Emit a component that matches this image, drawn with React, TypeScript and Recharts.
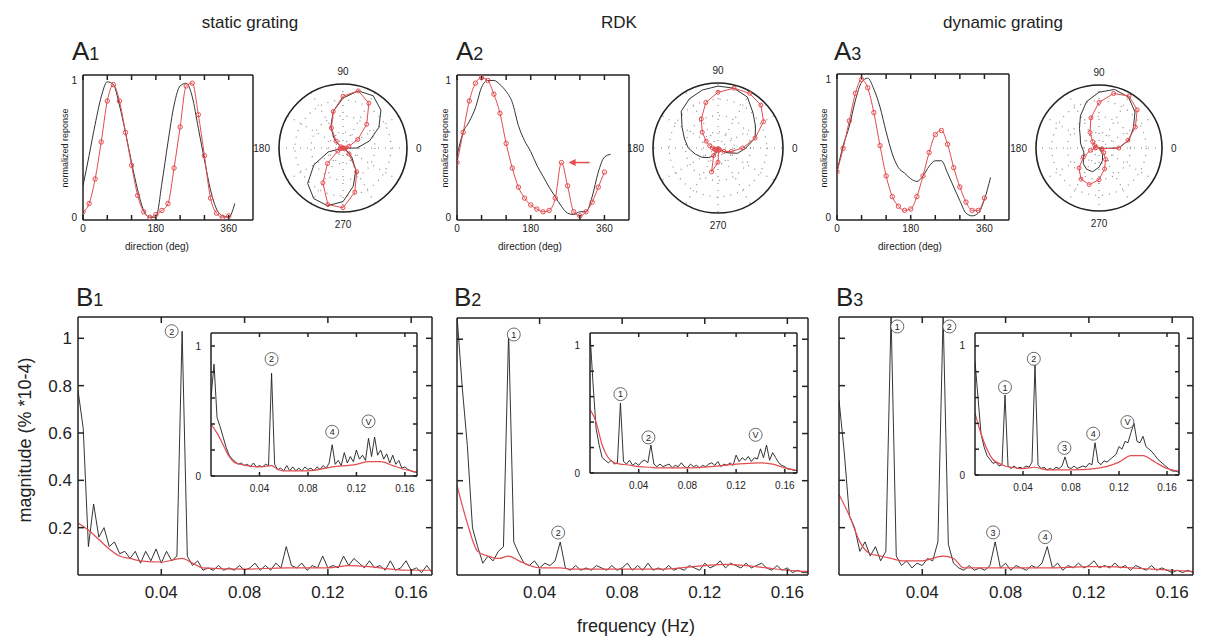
import React from 'react';
import {
  ComposedChart, Line, Scatter, XAxis, YAxis,
  RadarChart, Radar, PolarGrid, PolarAngleAxis, PolarRadiusAxis,
} from 'recharts';

const RED = '#e34b4f';
const INK = '#222';
const FONT = '"Liberation Sans", Arial, Helvetica, sans-serif';

// ---- A panels: direction tuning (normalized response) ----
const dirs = [0, 15, 30, 45, 60, 75, 90, 105, 120, 135, 150, 165, 180, 195, 210, 225, 240, 255, 270, 285, 300, 315, 330, 345, 360, 375];
const dirTicks = [0, 60, 120, 180, 240, 300, 360];
const dirLabels = [0, 180, 360];

const a1Black = [0.23, 0.45, 0.68, 0.88, 0.99, 0.97, 0.82, 0.62, 0.40, 0.20, 0.05, 0.0, 0.0, 0.25, 0.55, 0.82, 0.96, 0.98, 0.88, 0.65, 0.42, 0.20, 0.06, 0.01, 0.0, 0.10];
const a1Red = [0.04, 0.10, 0.28, 0.55, 0.85, 0.97, 0.85, 0.62, 0.38, 0.16, 0.04, 0.0, 0.02, 0.05, 0.10, 0.36, 0.66, 0.96, 0.98, 0.75, 0.45, 0.14, 0.03, 0.0, 0.01, null];
const a2Black = [0.45, 0.62, 0.70, 0.80, 0.95, 1.0, 1.0, 0.97, 0.92, 0.84, 0.67, 0.56, 0.48, 0.38, 0.30, 0.22, 0.15, 0.08, 0.03, 0.02, 0.04, 0.04, 0.15, 0.33, 0.44, 0.46];
const a2Red = [0.40, 0.62, 0.85, 0.98, 1.02, 1.0, 0.90, 0.76, 0.54, 0.36, 0.22, 0.14, 0.09, 0.06, 0.04, 0.05, 0.14, 0.40, 0.23, 0.04, 0.01, 0.04, 0.11, 0.22, 0.33, null];
const a3Black = [0.33, 0.52, 0.66, 0.85, 0.98, 1.01, 0.93, 0.80, 0.62, 0.46, 0.36, 0.32, 0.28, 0.26, 0.30, 0.37, 0.41, 0.41, 0.32, 0.22, 0.12, 0.03, 0.01, 0.03, 0.13, 0.29];
const a3Red = [0.33, 0.50, 0.70, 0.90, 1.0, 0.94, 0.76, 0.52, 0.30, 0.15, 0.08, 0.05, 0.06, 0.15, 0.30, 0.47, 0.60, 0.63, 0.53, 0.36, 0.22, 0.11, 0.05, 0.05, 0.14, null];
const a2Arrow = [{ dir: 270, v: 0.4 }];

// ---- B panels: spectra ----
const freqs = [
  0, 0.0025, 0.005, 0.0075, 0.01, 0.0125, 0.015, 0.0175, 0.02, 0.0225,
  0.025, 0.0275, 0.03, 0.0325, 0.035, 0.0375, 0.04, 0.0425, 0.045, 0.0475,
  0.05, 0.0525, 0.055, 0.0575, 0.06, 0.0625, 0.065, 0.0675, 0.07, 0.0725,
  0.075, 0.0775, 0.08, 0.0825, 0.085, 0.0875, 0.09, 0.0925, 0.095, 0.0975,
  0.1, 0.1025, 0.105, 0.1075, 0.11, 0.1125, 0.115, 0.1175, 0.12, 0.1225,
  0.125, 0.1275, 0.13, 0.1325, 0.135, 0.1375, 0.14, 0.1425, 0.145, 0.1475,
  0.15, 0.1525, 0.155, 0.1575, 0.16, 0.1625, 0.165, 0.1675, 0.17,
];
const redFreqs = [0, 0.005, 0.01, 0.015, 0.02, 0.025, 0.03, 0.04, 0.05, 0.055, 0.06, 0.08, 0.1, 0.12, 0.13, 0.14, 0.15, 0.16, 0.17];
const freqTicks = [0.04, 0.08, 0.12, 0.16];

const b1Black = [
  0.78, 0.62, 0.12, 0.30, 0.16, 0.20, 0.12, 0.14, 0.09, 0.10,
  0.07, 0.10, 0.05, 0.10, 0.06, 0.11, 0.05, 0.10, 0.06, 0.08,
  1.03, 0.08, 0.04, 0.06, 0.02, 0.03, 0.02, 0.04, 0.02, 0.03,
  0.02, 0.04, 0.02, 0.03, 0.05, 0.02, 0.04, 0.02, 0.05, 0.03,
  0.12, 0.04, 0.03, 0.05, 0.02, 0.04, 0.03, 0.08, 0.03, 0.04,
  0.03, 0.08, 0.04, 0.07, 0.05, 0.03, 0.06, 0.03, 0.04, 0.02,
  0.06, 0.02, 0.03, 0.06, 0.02, 0.03, 0.01, 0.04, 0.01,
];
const b1Red = [0.22, 0.19, 0.15, 0.11, 0.08, 0.07, 0.06, 0.055, 0.07, 0.05, 0.03, 0.025, 0.03, 0.03, 0.04, 0.035, 0.025, 0.02, 0.02];
const b1InsetBlack = [
  0.60, 0.86, 0.45, 0.38, 0.30, 0.22, 0.16, 0.13, 0.11, 0.09,
  0.10, 0.08, 0.09, 0.07, 0.10, 0.07, 0.08, 0.07, 0.09, 0.08,
  0.79, 0.09, 0.05, 0.06, 0.04, 0.08, 0.04, 0.07, 0.04, 0.06,
  0.04, 0.07, 0.05, 0.06, 0.04, 0.07, 0.05, 0.08, 0.06, 0.10,
  0.24, 0.09, 0.12, 0.08, 0.18, 0.10, 0.15, 0.11, 0.20, 0.13,
  0.16, 0.12, 0.29, 0.15, 0.30, 0.16, 0.20, 0.13, 0.17, 0.10,
  0.16, 0.09, 0.12, 0.06, 0.07, 0.05, 0.04, 0.03, 0.03,
];
const b1InsetRed = [0.40, 0.33, 0.24, 0.15, 0.10, 0.09, 0.08, 0.07, 0.08, 0.05, 0.04, 0.04, 0.07, 0.09, 0.11, 0.11, 0.08, 0.05, 0.03];

const b2Black = [
  1.10, 0.80, 0.55, 0.20, 0.12, 0.05, 0.08, 0.06, 0.10, 0.12,
  1.03, 0.14, 0.09, 0.05, 0.04, 0.06, 0.03, 0.05, 0.04, 0.06,
  0.14, 0.03, 0.02, 0.04, 0.02, 0.03, 0.02, 0.04, 0.03, 0.02,
  0.04, 0.02, 0.03, 0.05, 0.02, 0.04, 0.02, 0.05, 0.02, 0.03,
  0.02, 0.04, 0.02, 0.03, 0.02, 0.04, 0.03, 0.02, 0.05, 0.03,
  0.04, 0.06, 0.03, 0.05, 0.04, 0.03, 0.05, 0.03, 0.04, 0.05,
  0.03, 0.02, 0.04, 0.02, 0.03, 0.01, 0.02, 0.01, 0.01,
];
const b2Red = [0.38, 0.22, 0.10, 0.08, 0.07, 0.08, 0.06, 0.03, 0.03, 0.025, 0.025, 0.025, 0.025, 0.04, 0.045, 0.04, 0.03, 0.02, 0.015];
const b2InsetBlack = [
  1.10, 0.70, 0.35, 0.22, 0.12, 0.10, 0.08, 0.10, 0.07, 0.08,
  0.55, 0.09, 0.07, 0.10, 0.06, 0.08, 0.06, 0.09, 0.10, 0.08,
  0.22, 0.07, 0.05, 0.07, 0.05, 0.06, 0.07, 0.04, 0.06, 0.05,
  0.08, 0.05, 0.04, 0.07, 0.05, 0.06, 0.04, 0.06, 0.05, 0.07,
  0.08, 0.06, 0.09, 0.05, 0.07, 0.06, 0.08, 0.06, 0.14, 0.09,
  0.12, 0.10, 0.13, 0.09, 0.12, 0.11, 0.19, 0.12, 0.22, 0.10,
  0.16, 0.12, 0.08, 0.06, 0.05, 0.03, 0.03, 0.02, 0.02,
];
const b2InsetRed = [0.50, 0.40, 0.22, 0.12, 0.08, 0.07, 0.065, 0.05, 0.045, 0.04, 0.04, 0.04, 0.05, 0.07, 0.075, 0.08, 0.07, 0.04, 0.02];

const b3Black = [
  0.74, 0.52, 0.25, 0.20, 0.10, 0.14, 0.08, 0.12, 0.06, 0.10,
  1.10, 0.08, 0.04, 0.06, 0.03, 0.05, 0.04, 0.07, 0.06, 0.14,
  1.10, 0.13, 0.05, 0.03, 0.02, 0.04, 0.02, 0.03, 0.02, 0.04,
  0.14, 0.03, 0.05, 0.02, 0.04, 0.03, 0.02, 0.04, 0.03, 0.05,
  0.12, 0.03, 0.05, 0.02, 0.04, 0.03, 0.05, 0.03, 0.04, 0.06,
  0.03, 0.04, 0.03, 0.05, 0.03, 0.04, 0.02, 0.04, 0.03, 0.02,
  0.04, 0.02, 0.03, 0.02, 0.01, 0.02, 0.01, 0.02, 0.01,
];
const b3Red = [0.34, 0.25, 0.14, 0.09, 0.08, 0.07, 0.06, 0.06, 0.08, 0.07, 0.03, 0.03, 0.03, 0.035, 0.035, 0.03, 0.025, 0.02, 0.015];
const b3InsetBlack = [
  0.88, 0.60, 0.32, 0.22, 0.15, 0.12, 0.09, 0.10, 0.07, 0.08,
  0.62, 0.07, 0.05, 0.07, 0.05, 0.06, 0.05, 0.07, 0.06, 0.10,
  0.86, 0.08, 0.05, 0.06, 0.04, 0.05, 0.04, 0.06, 0.05, 0.07,
  0.14, 0.06, 0.05, 0.07, 0.05, 0.06, 0.07, 0.06, 0.09, 0.08,
  0.25, 0.10, 0.08, 0.11, 0.10, 0.12, 0.14, 0.16, 0.22, 0.20,
  0.26, 0.25, 0.33, 0.40, 0.26, 0.25, 0.30, 0.22, 0.20, 0.18,
  0.15, 0.12, 0.10, 0.08, 0.06, 0.04, 0.03, 0.03, 0.02,
];
const b3InsetRed = [0.48, 0.32, 0.20, 0.12, 0.09, 0.07, 0.06, 0.05, 0.06, 0.05, 0.04, 0.04, 0.05, 0.10, 0.15, 0.15, 0.10, 0.05, 0.03];

// circled peak labels (harmonics 1-4, V)
const b1Marks = [{ f: 0.045, y: 1.03, t: '2' }];
const b1InsetMarks = [{ f: 0.05, y: 0.9, t: '2' }, { f: 0.1, y: 0.34, t: '4' }, { f: 0.13, y: 0.42, t: 'V' }];
const b2Marks = [{ f: 0.0275, y: 1.02, t: '1' }, { f: 0.049, y: 0.18, t: '2' }];
const b2InsetMarks = [{ f: 0.025, y: 0.62, t: '1' }, { f: 0.048, y: 0.28, t: '2' }, { f: 0.136, y: 0.3, t: 'V' }];
const b3Marks = [{ f: 0.028, y: 1.05, t: '1' }, { f: 0.053, y: 1.05, t: '2' }, { f: 0.074, y: 0.18, t: '3' }, { f: 0.099, y: 0.16, t: '4' }];
const b3InsetMarks = [{ f: 0.025, y: 0.68, t: '1' }, { f: 0.049, y: 0.9, t: '2' }, { f: 0.0745, y: 0.21, t: '3' }, { f: 0.0985, y: 0.32, t: '4' }, { f: 0.127, y: 0.41, t: 'V' }];

type BoxT = { left: number; top: number; w: number; h: number };

const Circled = (p: any) => {
  const { cx, cy, payload } = p;
  return (
    <g>
      <circle cx={cx} cy={cy} r={6.5} fill="#fff" stroke="#444" strokeWidth={0.8} />
      <text x={cx} y={cy + 3.3} textAnchor="middle" fontSize={9} fontFamily={FONT} fill={INK}>{payload.t}</text>
    </g>
  );
};

const ArrowMark = (p: any) => {
  const { cx, cy } = p;
  return (
    <g>
      <line x1={cx + 6} y1={cy} x2={cx + 22} y2={cy} stroke={RED} strokeWidth={1.5} />
      <polygon points={`${cx + 1},${cy} ${cx + 8},${cy - 3.5} ${cx + 8},${cy + 3.5}`} fill={RED} />
    </g>
  );
};

function TuningPlot({ box, black, red, arrow }: { box: BoxT; black: (number | null)[]; red: (number | null)[]; arrow?: boolean }) {
  const L = 22, R = 4, T = 4, B = 24;
  const rows = dirs.map((d, i) => ({ dir: d, black: black[i], red: red[i] }));
  const axisStyle = { stroke: INK, strokeWidth: 1.5 };
  const tick = { fontSize: 10, fill: INK, fontFamily: FONT };
  return (
    <div style={{ position: 'absolute', left: box.left - L, top: box.top - T }}>
      <ComposedChart width={box.w + L + R} height={box.h + T + B} data={rows} margin={{ top: 0, right: 0, bottom: 0, left: 0 }}>
        <XAxis xAxisId="b" dataKey="dir" type="number" domain={[0, 420]} ticks={dirTicks} allowDataOverflow
          tickFormatter={(v: number) => (dirLabels.includes(v) ? String(v) : '')}
          height={B} tickSize={-5} tickMargin={10} axisLine={axisStyle} tickLine={axisStyle} tick={tick} />
        <XAxis xAxisId="t" orientation="top" dataKey="dir" type="number" domain={[0, 420]} ticks={dirTicks} allowDataOverflow
          tickFormatter={() => ''} height={T} tickSize={-5} axisLine={axisStyle} tickLine={axisStyle} />
        <YAxis yAxisId="l" type="number" domain={[-0.02, 1.04]} ticks={[0, 1]} allowDataOverflow
          width={L} tickSize={0} tickMargin={6} axisLine={axisStyle} tickLine={false} tick={tick} />
        <YAxis yAxisId="r" orientation="right" type="number" domain={[-0.02, 1.04]} ticks={[0, 1]} allowDataOverflow
          width={R} tick={false} tickLine={false} axisLine={axisStyle} />
        <Line xAxisId="b" yAxisId="l" dataKey="black" type="monotone" stroke="#333" strokeWidth={1} dot={false} isAnimationActive={false} />
        <Line xAxisId="b" yAxisId="l" dataKey="red" type="monotone" stroke={RED} strokeWidth={1} isAnimationActive={false}
          dot={{ r: 2.2, stroke: RED, fill: 'none', strokeWidth: 1 }} />
        {arrow && (
          <Scatter xAxisId="b" yAxisId="l" data={a2Arrow} dataKey="v" shape={ArrowMark} isAnimationActive={false} />
        )}
      </ComposedChart>
    </div>
  );
}

function PolarPlot({ cx, cy, r, black, red }: { cx: number; cy: number; r: number; black: (number | null)[]; red: (number | null)[] }) {
  const rows = dirs.filter((d) => d < 360).map((d, i) => ({ dir: d, black: black[i], red: red[i] }));
  const size = 2 * r + 70;
  return (
    <div style={{ position: 'absolute', left: cx - size / 2, top: cy - size / 2 }}>
      <RadarChart width={size} height={size} data={rows} cx={size / 2} cy={size / 2} outerRadius={r}
        startAngle={0} endAngle={360} margin={{ top: 0, right: 0, bottom: 0, left: 0 }}>
        <PolarGrid gridType="circle" polarAngles={[0, 30, 60, 90, 120, 150, 180, 210, 240, 270, 300, 330]}
          polarRadius={[r * 0.25, r * 0.5, r * 0.75]} stroke="#8a8a8a" strokeDasharray="1 6" strokeWidth={1.2} />
        <PolarGrid gridType="circle" polarAngles={[]} polarRadius={[r]} radialLines={false} stroke={INK} strokeWidth={1.6} />
        <PolarAngleAxis dataKey="dir" type="number" domain={[0, 360]} ticks={[0, 90, 180, 270] as any}
          axisLine={false} tickLine={false} tickSize={9} tick={{ fontSize: 10, fill: INK, fontFamily: FONT }} />
        <PolarRadiusAxis domain={[0, 1.05]} tick={false} axisLine={false} />
        <Radar dataKey="black" stroke="#333" strokeWidth={1} fill="none" fillOpacity={0} dot={false} isAnimationActive={false} />
        <Radar dataKey="red" stroke={RED} strokeWidth={1} fill="none" fillOpacity={0} isAnimationActive={false}
          dot={{ r: 2, stroke: RED, fill: 'none', strokeWidth: 1 }} />
      </RadarChart>
    </div>
  );
}

function Spectrum({ box, black, red, marks, inset, showY }: {
  box: BoxT; black: number[]; red: number[]; marks: { f: number; y: number; t: string }[]; inset?: boolean; showY?: boolean;
}) {
  const L = inset ? 24 : 44, R = 4, T = 4, B = inset ? 24 : 36;
  const rows = freqs.map((f, i) => ({ f, v: black[i] }));
  const redRows = redFreqs.map((f, i) => ({ f, v: red[i] }));
  const yDomain = inset ? [0, 1.1] : [0, 1.09];
  const yTicks = inset ? [0, 0.2, 0.4, 0.6, 0.8, 1] : [0.2, 0.4, 0.6, 0.8, 1];
  const fs = inset ? 10 : 17;
  const ts = inset ? -4 : -6;
  const axisStyle = { stroke: INK, strokeWidth: 1.5 };
  const tick = { fontSize: fs, fill: INK, fontFamily: FONT };
  const yFmt = (v: number) => {
    if (!showY) return '';
    if (inset) return v === 0 || v === 1 ? String(v) : '';
    return String(v);
  };
  return (
    <>
      {inset && <div style={{ position: 'absolute', left: box.left, top: box.top, width: box.w, height: box.h, background: '#fff' }} />}
      <div style={{ position: 'absolute', left: box.left - L, top: box.top - T }}>
        <ComposedChart width={box.w + L + R} height={box.h + T + B} data={rows} margin={{ top: 0, right: 0, bottom: 0, left: 0 }}>
          <XAxis xAxisId="b" dataKey="f" type="number" domain={[0, 0.17]} ticks={freqTicks} allowDataOverflow
            tickFormatter={(v: number) => v.toFixed(2)} height={B} tickSize={ts} tickMargin={inset ? 13 : 17}
            axisLine={axisStyle} tickLine={axisStyle} tick={tick} />
          <XAxis xAxisId="t" orientation="top" dataKey="f" type="number" domain={[0, 0.17]} ticks={freqTicks} allowDataOverflow
            tickFormatter={() => ''} height={T} tickSize={ts} axisLine={axisStyle} tickLine={axisStyle} />
          <YAxis yAxisId="l" type="number" domain={yDomain} ticks={yTicks} allowDataOverflow
            tickFormatter={yFmt} width={L} tickSize={ts} tickMargin={inset ? 14 : 12}
            axisLine={axisStyle} tickLine={axisStyle} tick={tick} />
          <YAxis yAxisId="r" orientation="right" type="number" domain={yDomain} ticks={yTicks} allowDataOverflow
            tickFormatter={() => ''} width={R} tickSize={ts} axisLine={axisStyle} tickLine={axisStyle} />
          <Line xAxisId="b" yAxisId="l" dataKey="v" type="linear" stroke="#1e1e1e" strokeWidth={0.9} dot={false} isAnimationActive={false} />
          <Line xAxisId="b" yAxisId="l" data={redRows} dataKey="v" type="monotone" stroke={RED} strokeWidth={1.2} dot={false} isAnimationActive={false} />
          <Scatter xAxisId="b" yAxisId="l" data={marks} dataKey="y" shape={Circled} isAnimationActive={false} />
        </ComposedChart>
      </div>
    </>
  );
}

function Panel({ x, y, letter, num }: { x: number; y: number; letter: string; num: string }) {
  return (
    <text x={x} y={y} fontFamily={FONT} fill={INK}>
      <tspan fontSize={26}>{letter}</tspan>
      <tspan fontSize={18}>{num}</tspan>
    </text>
  );
}

export default function App() {
  return (
    <div style={{ position: 'absolute', left: 0, top: 0, width: 1209, height: 643, background: '#fff', overflow: 'hidden' }}>
      <TuningPlot box={{ left: 83, top: 75, w: 170, h: 145 }} black={a1Black} red={a1Red} />
      <TuningPlot box={{ left: 457, top: 75, w: 172, h: 145 }} black={a2Black} red={a2Red} arrow />
      <TuningPlot box={{ left: 837, top: 74, w: 172, h: 146 }} black={a3Black} red={a3Red} />

      <PolarPlot cx={343} cy={148} r={64} black={a1Black} red={a1Red} />
      <PolarPlot cx={718} cy={148} r={65} black={a2Black} red={a2Red} />
      <PolarPlot cx={1099} cy={148} r={63} black={a3Black} red={a3Red} />

      <Spectrum box={{ left: 78, top: 317, w: 354, h: 258 }} black={b1Black} red={b1Red} marks={b1Marks} showY />
      <Spectrum box={{ left: 211, top: 333, w: 206, h: 143 }} black={b1InsetBlack} red={b1InsetRed} marks={b1InsetMarks} inset showY />
      <Spectrum box={{ left: 457, top: 318, w: 351, h: 257 }} black={b2Black} red={b2Red} marks={b2Marks} />
      <Spectrum box={{ left: 590, top: 333, w: 207, h: 140 }} black={b2InsetBlack} red={b2InsetRed} marks={b2InsetMarks} inset showY />
      <Spectrum box={{ left: 839, top: 317, w: 354, h: 258 }} black={b3Black} red={b3Red} marks={b3Marks} />
      <Spectrum box={{ left: 975, top: 333, w: 204, h: 142 }} black={b3InsetBlack} red={b3InsetRed} marks={b3InsetMarks} inset showY />

      <svg width={1209} height={643} style={{ position: 'absolute', left: 0, top: 0, pointerEvents: 'none' }}>
        <g fontFamily={FONT} fill={INK} textAnchor="middle">
          <text x={250} y={28} fontSize={17}>static grating</text>
          <text x={619} y={28} fontSize={17}>RDK</text>
          <text x={1003} y={28} fontSize={17}>dynamic grating</text>
          <text x={157} y={250} fontSize={10}>direction (deg)</text>
          <text x={530} y={250} fontSize={10}>direction (deg)</text>
          <text x={910} y={250} fontSize={10}>direction (deg)</text>
          <text transform="translate(68,148) rotate(-90)" fontSize={9}>normalized reponse</text>
          <text transform="translate(448,148) rotate(-90)" fontSize={9}>normalized reponse</text>
          <text transform="translate(827,148) rotate(-90)" fontSize={9}>normalized reponse</text>
          <text transform="translate(31,440) rotate(-90)" fontSize={18}>magnitude (% *10-4)</text>
          <text x={636} y={632} fontSize={18}>frequency (Hz)</text>
        </g>
        <Panel x={72} y={60} letter="A" num="1" />
        <Panel x={456} y={60} letter="A" num="2" />
        <Panel x={834} y={60} letter="A" num="3" />
        <Panel x={76} y={306} letter="B" num="1" />
        <Panel x={454} y={306} letter="B" num="2" />
        <Panel x={836} y={306} letter="B" num="3" />
      </svg>
    </div>
  );
}
